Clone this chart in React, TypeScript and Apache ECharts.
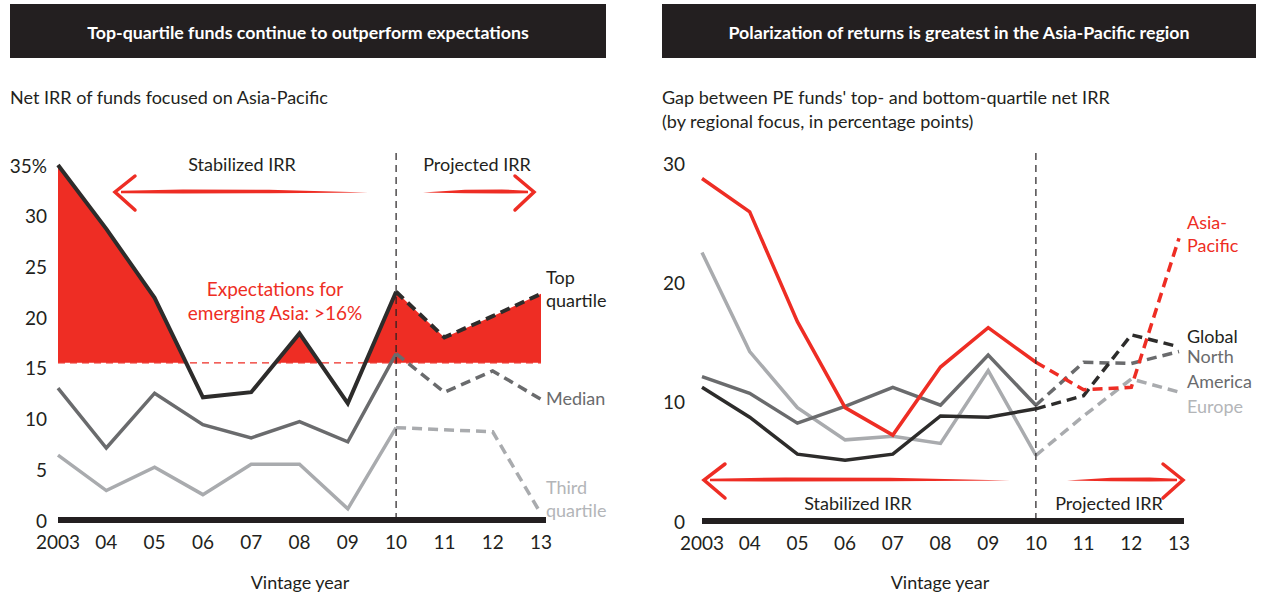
import React, { useEffect, useRef } from "react";
import * as echarts from "echarts";

// ---------- data ----------
const years = ["2003", "04", "05", "06", "07", "08", "09", "10", "11", "12", "13"];
const projectedFromIndex = 7; // 2010: stabilized -> projected

// Left panel: net IRR of Asia-Pacific funds (%)
const topQuartile = [35.0, 28.7, 21.9, 12.1, 12.6, 18.4, 11.5, 22.5, 18.0, 20.1, 22.3];
const median = [13.0, 7.1, 12.5, 9.4, 8.1, 9.7, 7.7, 16.4, 12.6, 14.7, 11.9];
const thirdQuartile = [6.4, 2.9, 5.2, 2.5, 5.5, 5.5, 1.1, 9.1, 8.9, 8.7, 0.6];
const expectationLevel = 15.5;
const leftTickMax = 35;
const leftTickStep = 5;

// Right panel: gap between top- and bottom-quartile net IRR (pp)
const asiaPacific = [28.7, 25.9, 16.7, 9.5, 7.2, 12.9, 16.2, 13.3, 11.0, 11.2, 23.7];
const globalGap = [11.2, 8.7, 5.6, 5.1, 5.6, 8.8, 8.7, 9.4, 10.5, 15.6, 14.6];
const northAmerica = [12.1, 10.7, 8.2, 9.6, 11.2, 9.7, 13.9, 9.7, 13.3, 13.2, 14.2];
const europe = [22.5, 14.2, 9.5, 6.8, 7.1, 6.5, 12.6, 5.5, 8.8, 11.9, 10.8];
const rightTickMax = 30;
const rightTickStep = 10;

// ---------- styling ----------
const RED = "#ee2d24";
const DARK = "#2d2c2b";
const MID = "#6a6b6d";
const LIGHT = "#a9abae";
const LIGHT_TEXT = "#b3b5b8";
const INK = "#231f20";
const FONT = "Lato, 'Noto Sans', sans-serif";

const solidPart = (arr: number[]) => arr.map((v, i) => (i <= projectedFromIndex ? v : "-"));
const dashedPart = (arr: number[]) => arr.map((v, i) => (i >= projectedFromIndex ? v : "-"));

function line(data: any[], color: string, width: number, dashed: boolean, axis: number, z: number) {
  return {
    type: "line",
    data,
    xAxisIndex: axis,
    yAxisIndex: axis,
    symbol: "none",
    showSymbol: false,
    silent: true,
    z,
    lineStyle: { color, width, type: dashed ? [10, 6] : "solid", cap: "butt", join: "miter" },
    itemStyle: { color },
  };
}

function txt(text: string, x: number, y: number, color: string, size: number, align = "left", weight = "normal") {
  return {
    type: "text",
    z: 110,
    silent: true,
    style: {
      text,
      x,
      y,
      fill: color,
      fontSize: size,
      fontFamily: FONT,
      fontWeight: weight,
      align,
      textAlign: align,
      verticalAlign: "middle",
      textVerticalAlign: "middle",
    },
  };
}

// brush-like red arrow: shaft from tip side to tail, chevron at tip
function brushArrow(tipX: number, tailX: number, y: number, armDx: number) {
  const dir = tailX > tipX ? 1 : -1;
  const L = Math.abs(tailX - tipX);
  const sx = tipX + dir * 6;
  const p = (f: number) => sx + dir * (L - 6) * f;
  const shaft = {
    type: "polygon",
    z: 110,
    silent: true,
    shape: {
      points: [
        [sx, y - 1.2],
        [p(0.25), y - 2.6],
        [p(0.6), y - 2.3],
        [p(1), y + 0.6],
        [p(0.6), y + 1.3],
        [p(0.25), y + 1.6],
        [sx, y + 1.2],
      ],
    },
    style: { fill: RED },
  };
  const head = {
    type: "polyline",
    z: 110,
    silent: true,
    shape: {
      points: [
        [tipX + dir * armDx, y - 16],
        [tipX, y],
        [tipX + dir * armDx, y + 18],
      ],
    },
    style: { stroke: RED, lineWidth: 3.5, fill: null, lineCap: "round", lineJoin: "miter" },
  };
  return [shaft, head];
}

// red area between the top-quartile line and the expectation level, only where above it
function renderExcessArea(params: any, api: any) {
  const pts = topQuartile.map((v, i) => api.coord([i, v]));
  const yT = api.coord([0, expectationLevel])[1];
  const poly: number[][] = [[pts[0][0], yT]];
  for (let i = 0; i < pts.length; i++) {
    const [x, y] = pts[i];
    poly.push([x, Math.min(y, yT)]);
    if (i < pts.length - 1) {
      const [x1, y1] = pts[i + 1];
      if ((y - yT) * (y1 - yT) < 0) {
        const t = (yT - y) / (y1 - y);
        poly.push([x + t * (x1 - x), yT]);
      }
    }
  }
  poly.push([pts[pts.length - 1][0], yT]);
  return {
    type: "polygon",
    shape: { points: poly },
    style: { fill: RED, stroke: null },
    silent: true,
  };
}

export default function App() {
  const ref = useRef<HTMLDivElement>(null);

  useEffect(() => {
    if (!ref.current) return;
    const chart = echarts.init(ref.current, undefined, { renderer: "svg" });

    const xAxisBase = {
      type: "category",
      data: years,
      boundaryGap: false,
      axisLine: { show: false },
      axisTick: { show: false },
      splitLine: { show: false },
      axisLabel: { interval: 0, margin: 12, fontSize: 19, color: INK, fontFamily: FONT },
    };

    const option: any = {
      animation: false,
      backgroundColor: "#ffffff",
      grid: [
        { left: 58, top: 165, width: 483, height: 355 },
        { left: 702, top: 163, width: 477, height: 358 },
      ],
      xAxis: [
        { ...xAxisBase, gridIndex: 0 },
        { ...xAxisBase, gridIndex: 1 },
      ],
      yAxis: [
        {
          type: "value",
          gridIndex: 0,
          min: 0,
          max: leftTickMax,
          interval: leftTickStep,
          axisLine: { show: false },
          axisTick: { show: false },
          splitLine: { show: false },
          axisLabel: {
            margin: 11,
            fontSize: 19,
            color: INK,
            fontFamily: FONT,
            formatter: (v: number) => (v === leftTickMax ? v + "%" : String(v)),
          },
        },
        {
          type: "value",
          gridIndex: 1,
          min: 0,
          max: rightTickMax,
          interval: rightTickStep,
          axisLine: { show: false },
          axisTick: { show: false },
          splitLine: { show: false },
          axisLabel: { margin: 17, fontSize: 19, color: INK, fontFamily: FONT },
        },
      ],
      series: [
        // 0: red fill above expectations
        {
          type: "custom",
          xAxisIndex: 0,
          yAxisIndex: 0,
          data: [[0, expectationLevel]],
          renderItem: renderExcessArea,
          silent: true,
          z: 2,
        },
        line(solidPart(thirdQuartile), LIGHT, 3.5, false, 0, 3),
        line(dashedPart(thirdQuartile), LIGHT, 3.5, true, 0, 3),
        line(solidPart(median), MID, 3.5, false, 0, 4),
        line(dashedPart(median), MID, 3.5, true, 0, 4),
        line(solidPart(topQuartile), DARK, 4, false, 0, 5),
        line(dashedPart(topQuartile), DARK, 4, true, 0, 5),
        // right panel
        line(solidPart(europe), LIGHT, 3.5, false, 1, 3),
        line(dashedPart(europe), LIGHT, 3.5, true, 1, 3),
        line(solidPart(northAmerica), MID, 3.5, false, 1, 4),
        line(dashedPart(northAmerica), MID, 3.5, true, 1, 4),
        line(solidPart(globalGap), DARK, 3.5, false, 1, 5),
        line(dashedPart(globalGap), DARK, 3.5, true, 1, 5),
        line(solidPart(asiaPacific), RED, 3.5, false, 1, 6),
        line(dashedPart(asiaPacific), RED, 3.5, true, 1, 6),
      ],
    };

    chart.setOption(option);

    const px = (g: number, i: number, v: number) =>
      chart.convertToPixel({ xAxisIndex: g, yAxisIndex: g } as any, [i, v]) as number[];

    const L0 = px(0, 0, 0);
    const L10 = px(0, years.length - 1, 0);
    const Lp = px(0, projectedFromIndex, 0);
    const Le0 = px(0, 0, expectationLevel);
    const Le10 = px(0, years.length - 1, expectationLevel);
    const R0 = px(1, 0, 0);
    const R10 = px(1, years.length - 1, 0);
    const Rp = px(1, projectedFromIndex, 0);

    const graphics: any[] = [
      // expectation threshold (under the fill)
      { type: "line", z: 1, silent: true, shape: { x1: Le0[0], y1: Le0[1], x2: Le10[0], y2: Le10[1] }, style: { stroke: RED, lineWidth: 1.2, lineDash: [7, 5] } },
      // headers
      { type: "rect", z: 100, silent: true, shape: { x: 10, y: 4, width: 596, height: 54 }, style: { fill: INK } },
      { type: "rect", z: 100, silent: true, shape: { x: 662, y: 4, width: 594, height: 54 }, style: { fill: INK } },
      txt("Top-quartile funds continue to outperform expectations", 308, 32, "#ffffff", 17.8, "center", "bold"),
      txt("Polarization of returns is greatest in the Asia-Pacific region", 959, 32, "#ffffff", 17.8, "center", "bold"),
      // subtitles
      txt("Net IRR of funds focused on Asia-Pacific", 10, 97, INK, 18),
      txt("Gap between PE funds' top- and bottom-quartile net IRR", 662, 97, INK, 18),
      txt("(by regional focus, in percentage points)", 662, 121, INK, 18),
      // axis bars
      { type: "rect", z: 90, silent: true, shape: { x: L0[0], y: L0[1] - 3, width: L10[0] - L0[0] + 5, height: 6 }, style: { fill: INK } },
      { type: "rect", z: 90, silent: true, shape: { x: R0[0], y: R0[1] - 3, width: R10[0] - R0[0] + 5, height: 6 }, style: { fill: INK } },
      // vertical dashed separators
      { type: "line", z: 105, silent: true, shape: { x1: Lp[0], y1: 153, x2: Lp[0], y2: Lp[1] }, style: { stroke: INK, lineWidth: 1.2, lineDash: [7, 5] } },
      { type: "line", z: 105, silent: true, shape: { x1: Rp[0], y1: 153, x2: Rp[0], y2: Rp[1] }, style: { stroke: INK, lineWidth: 1.2, lineDash: [7, 5] } },
      // axis titles
      txt("Vintage year", 300, 582, INK, 18, "center"),
      txt("Vintage year", 940, 582, INK, 18, "center"),
      // left annotations
      txt("Stabilized IRR", 242, 164, INK, 18, "center"),
      txt("Projected IRR", 477, 164, INK, 18, "center"),
      ...brushArrow(115, 368, 192, 20),
      ...brushArrow(534, 423, 192, 19),
      txt("Expectations for", 275, 288, RED, 19, "center"),
      txt("emerging Asia: >16%", 275, 312, RED, 19, "center"),
      txt("Top", 546, 277, INK, 18),
      txt("quartile", 546, 300, INK, 18),
      txt("Median", 546, 398, MID, 18),
      txt("Third", 546, 487, LIGHT_TEXT, 18),
      txt("quartile", 546, 510, LIGHT_TEXT, 18),
      // right annotations
      ...brushArrow(704, 1010, 480, 21),
      ...brushArrow(1183, 1067, 480, 20),
      txt("Stabilized IRR", 858, 503, INK, 18, "center"),
      txt("Projected IRR", 1109, 503, INK, 18, "center"),
      txt("Asia-", 1187, 222, RED, 18),
      txt("Pacific", 1187, 245, RED, 18),
      txt("Global", 1187, 336, INK, 18),
      txt("North", 1187, 356, MID, 18),
      txt("America", 1187, 381, MID, 18),
      txt("Europe", 1187, 406, LIGHT_TEXT, 18),
    ];

    chart.setOption({ graphic: { elements: graphics } });

    return () => {
      chart.dispose();
    };
  }, []);

  return (
    <div
      ref={ref}
      style={{ position: "fixed", left: 0, top: 0, width: 1266, height: 596, background: "#fff" }}
    />
  );
}
